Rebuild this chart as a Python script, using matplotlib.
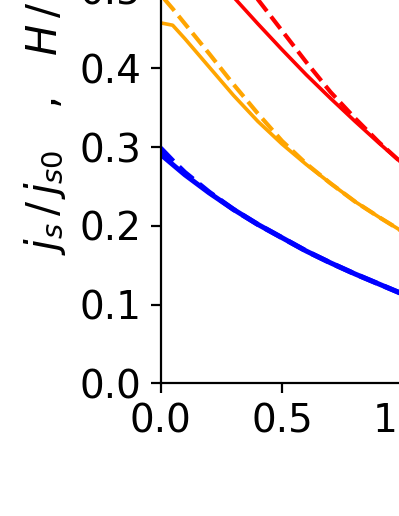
import matplotlib
matplotlib.use('Agg')
import matplotlib.pyplot as plt

# values
x = [0.0, 0.05, 0.1, 0.2, 0.3, 0.4, 0.5, 0.6, 0.7, 0.8, 0.9, 1.0, 1.1]

red_solid = [0.600, 0.581, 0.562, 0.526, 0.491, 0.457, 0.424, 0.392, 0.362, 0.333, 0.305, 0.278, 0.253]
red_dash = [0.662, 0.640, 0.617, 0.573, 0.530, 0.488, 0.448, 0.408, 0.370, 0.337, 0.306, 0.278, 0.253]

orange_solid = [0.458, 0.455, 0.438, 0.402, 0.366, 0.333, 0.304, 0.278, 0.254, 0.231, 0.211, 0.192, 0.175]
orange_dash = [0.494, 0.476, 0.457, 0.419, 0.380, 0.343, 0.308, 0.279, 0.254, 0.231, 0.211, 0.192, 0.175]

blue_solid = [0.291, 0.278, 0.265, 0.242, 0.221, 0.202, 0.185, 0.168, 0.153, 0.139, 0.126, 0.113, 0.102]
blue_dash = [0.299, 0.283, 0.268, 0.243, 0.221, 0.202, 0.185, 0.168, 0.153, 0.139, 0.126, 0.113, 0.102]

yticks = [0.0, 0.1, 0.2, 0.3, 0.4, 0.5, 0.6]
xticks = [0.0, 0.5, 1.0, 1.5]

fig = plt.figure(figsize=(3.99 / 2, 5.16 / 2), dpi=200)
# axes runs past the right and top edge (reference is a crop)
ax = fig.add_axes([160.5 / 399, 132.7 / 516, 2 * 243 / 399, 0.7 * 787 / 516])

ax.plot(x, red_solid, color='red', lw=1.3)
ax.plot(x, red_dash, color='red', lw=1.5, ls='--')
ax.plot(x, orange_solid, color='orange', lw=1.3)
ax.plot(x, orange_dash, color='orange', lw=1.5, ls='--')
ax.plot(x, blue_solid, color='blue', lw=1.8)
ax.plot(x, blue_dash, color='blue', lw=1.8, ls='--')

ax.set_xlim(0, 2)
ax.set_ylim(0, 0.7)
ax.set_xticks(xticks)
ax.set_yticks(yticks)
ax.tick_params(labelsize=14)
ax.spines['top'].set_visible(False)
ax.spines['right'].set_visible(False)

ax.set_ylabel(r'$j_s\, / \,j_{s0}$   ,   $H\, / \,H_0$', fontsize=15)
ax.yaxis.label.set_y(0.512)

fig.savefig('out.png', dpi=200)
